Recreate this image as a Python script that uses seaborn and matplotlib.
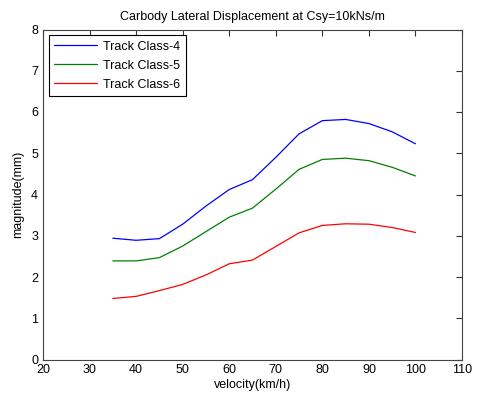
import matplotlib
matplotlib.use('Agg')

import pandas as pd
import seaborn as sns
import matplotlib.pyplot as plt

velocity = [35, 40, 45, 50, 55, 60, 65, 70, 75, 80, 85, 90, 95, 100]
class4 = [2.94, 2.89, 2.93, 3.28, 3.72, 4.12, 4.36, 4.90, 5.47, 5.79, 5.82, 5.72, 5.52, 5.23]
class5 = [2.39, 2.39, 2.47, 2.75, 3.10, 3.45, 3.67, 4.13, 4.61, 4.85, 4.88, 4.82, 4.66, 4.45]
class6 = [1.48, 1.53, 1.67, 1.82, 2.05, 2.32, 2.41, 2.74, 3.07, 3.25, 3.29, 3.28, 3.20, 3.08]
labels = ["Track Class-4", "Track Class-5", "Track Class-6"]
colors = ["#0000ff", "#008000", "#ff0000"]

df = pd.DataFrame({
    "velocity": velocity * 3,
    "magnitude": class4 + class5 + class6,
    "series": [labels[0]] * len(velocity) + [labels[1]] * len(velocity) + [labels[2]] * len(velocity),
})

sns.set_style("white")
plt.rcParams['font.family'] = ['Liberation Sans', 'DejaVu Sans']
plt.rcParams['text.color'] = 'black'
plt.rcParams['axes.labelcolor'] = 'black'
plt.rcParams['xtick.color'] = 'black'
plt.rcParams['ytick.color'] = 'black'

fig = plt.figure(figsize=(4.83, 3.99), dpi=100)
ax = fig.add_axes([43 / 483, 1 - 359.5 / 399, 419 / 483, 330 / 399])

sns.lineplot(data=df, x="velocity", y="magnitude", hue="series",
             palette=colors, linewidth=0.9, ax=ax)

ax.set_xlim(20, 110)
ax.set_ylim(0, 8)
ax.set_xticks(range(20, 111, 10))
ax.set_yticks(range(0, 9))
ax.tick_params(direction='in', length=4, width=0.8, labelsize=9,
               top=True, right=True, color='#333333')
for s in ax.spines.values():
    s.set_color('#444444')
    s.set_linewidth(0.8)

ax.set_title("Carbody Lateral Displacement at Csy=10kNs/m", fontsize=9, pad=7)
ax.set_xlabel("velocity(km/h)", fontsize=9, labelpad=2)
ax.set_ylabel("magnitude(mm)", fontsize=9, labelpad=5)

leg = ax.legend(loc='upper left', fontsize=9, fancybox=False, framealpha=1,
                edgecolor='black', borderaxespad=0.45, handlelength=3.4,
                handletextpad=0.5, labelspacing=0.55, borderpad=0.45)
leg.get_frame().set_linewidth(0.8)

plt.savefig("out.png", dpi=100)
plt.close()
